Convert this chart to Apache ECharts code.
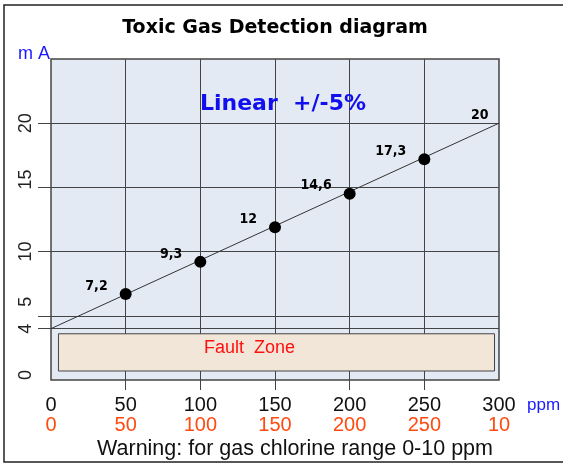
<!DOCTYPE html>
<html>
<head>
<meta charset="utf-8">
<script src="https://cdn.jsdelivr.net/npm/echarts@6/dist/echarts.min.js"></script>
<style>
  html, body { margin: 0; padding: 0; background: #fff; }
  #chart { width: 563px; height: 464px; }
</style>
</head>
<body>
<div id="chart"></div>
<script>
// ppm axis ticks and the second (orange) scale
var ppmTicks = [0, 50, 100, 150, 200, 250, 300];
var rangeLabels = ['0', '50', '100', '150', '200', '250', '10'];
// mA axis labels
var maLabels = [0, 4, 5, 10, 15, 20];
// measured points
var pointPpm = [50, 100, 150, 200, 250];
var pointMa = [6.7, 9.2, 11.9, 14.5, 17.2];
var pointText = ['7,2', '9,3', '12', '14,6', '17,3'];
// linear characteristic 4..20 mA
var lineStart = [0, 4];
var lineEnd = [300, 20];
// fault zone box (ppm from/to, mA from/to)
var faultPpm = [5, 297];
var faultMa = [0.7, 3.6];

var chart = echarts.init(document.getElementById('chart'));

var lineCol = '#444';
var labelFont = 'Liberation Sans, Arial, sans-serif';
var boldNarrow = 'DejaVu Sans Condensed, DejaVu Sans';

var option = {
    animation: false,
    title: [
        {
            text: 'Toxic Gas Detection diagram',
            left: 270, top: 14, textAlign: 'center',
            textStyle: {fontFamily: 'DejaVu Sans', fontWeight: 'bold', fontSize: 19, color: '#000'}
        },
        {
            text: 'm A',
            left: 13, top: 40,
            textStyle: {fontFamily: labelFont, fontWeight: 'normal', fontSize: 18, color: '#1a1aff'}
        },
        {
            text: 'Linear  +/-5%',
            left: 278, top: 88, textAlign: 'center',
            textStyle: {fontFamily: 'DejaVu Sans', fontWeight: 'bold', fontSize: 22, color: '#1010ee'}
        },
        {
            text: 'ppm',
            left: 522, top: 392,
            textStyle: {fontFamily: labelFont, fontWeight: 'normal', fontSize: 17, color: '#1a1aff'}
        },
        {
            text: 'Warning: for gas chlorine range 0-10 ppm',
            left: 290, top: 433, textAlign: 'center',
            textStyle: {fontFamily: labelFont, fontWeight: 'normal', fontSize: 21.5, color: '#111'}
        }
    ],
    graphic: [
        {
            type: 'rect', silent: true, z: -10,
            shape: {x: 4, y: 5, width: 600, height: 457},
            style: {fill: 'none', stroke: '#222', lineWidth: 1.5}
        }
    ],
    grid: {
        left: 51, right: 64, top: 59, bottom: 84,
        show: true,
        backgroundColor: '#e4eaf3',
        borderColor: '#444',
        borderWidth: 1.5
    },
    xAxis: [
        {
            type: 'value', min: 0, max: 300, interval: 50,
            axisLine: {show: false},
            axisTick: {show: true, length: 10, lineStyle: {color: lineCol},
                       customValues: [50, 100, 150, 200, 250]},
            splitLine: {show: true, lineStyle: {color: lineCol, width: 1}},
            axisLabel: {
                fontFamily: labelFont, fontSize: 20, color: '#111', margin: 15
            }
        },
        {
            type: 'value', min: 0, max: 300, interval: 50,
            position: 'bottom',
            axisLine: {show: false},
            axisTick: {show: false},
            splitLine: {show: false},
            axisLabel: {
                fontFamily: labelFont, fontSize: 20, color: '#ff4a10', margin: 35,
                formatter: function (v) {
                    return rangeLabels[ppmTicks.indexOf(v)];
                }
            }
        }
    ],
    yAxis: {
        type: 'value', min: 0, max: 25, interval: 5,
        axisLine: {show: false},
        axisTick: {show: true, length: 13, lineStyle: {color: lineCol},
                   customValues: [4, 5, 10, 15, 20]},
        splitLine: {show: true, lineStyle: {color: lineCol, width: 1}},
        axisLabel: {
            customValues: maLabels,
            rotate: 90,
            fontFamily: labelFont, fontSize: 18, color: '#222', margin: 16,
            formatter: function (v) {
                if (v === 5) return '{up28|' + v + '}';
                if (v === 15) return '{up16|' + v + '}';
                if (v === 0) return '{up10|' + v + '}';
                return '{n|' + v + '}';
            },
            rich: {
                n: {fontFamily: labelFont, fontSize: 18, color: '#222'},
                up28: {fontFamily: labelFont, fontSize: 18, color: '#222', padding: [0, 0, 0, 28]},
                up16: {fontFamily: labelFont, fontSize: 18, color: '#222', padding: [0, 0, 0, 16]},
                up10: {fontFamily: labelFont, fontSize: 18, color: '#222', padding: [0, 0, 0, 10]}
            }
        }
    },
    series: [
        {
            type: 'line',
            data: [lineStart, lineEnd],
            symbol: 'none',
            lineStyle: {color: '#333', width: 1},
            label: {show: false},
            endLabel: {
                show: true, formatter: String(lineEnd[1]),
                fontFamily: boldNarrow, fontWeight: 'bold',
                fontSize: 14, color: '#000', offset: [-36, -8]
            },
            markArea: {
                silent: true,
                itemStyle: {color: '#f1e6d8', borderColor: '#444', borderWidth: 1},
                label: {
                    show: true, position: 'inside', offset: [-27, -4],
                    fontFamily: labelFont, fontSize: 18, color: '#ff1010'
                },
                data: [[
                    {name: 'Fault  Zone', coord: [faultPpm[0], faultMa[1]]},
                    {coord: [faultPpm[1], faultMa[0]]}
                ]]
            },
            z: 3
        },
        {
            type: 'scatter',
            data: pointPpm.map(function (x, i) { return [x, pointMa[i]]; }),
            symbol: 'circle',
            symbolSize: 12,
            itemStyle: {color: '#000', opacity: 1},
            label: {
                show: true, position: 'left', distance: 12, offset: [0, -8],
                fontFamily: boldNarrow, fontWeight: 'bold',
                fontSize: 14, color: '#000',
                formatter: function (p) { return pointText[p.dataIndex]; }
            },
            z: 4
        }
    ]
};

chart.setOption(option);
</script>
</body>
</html>
